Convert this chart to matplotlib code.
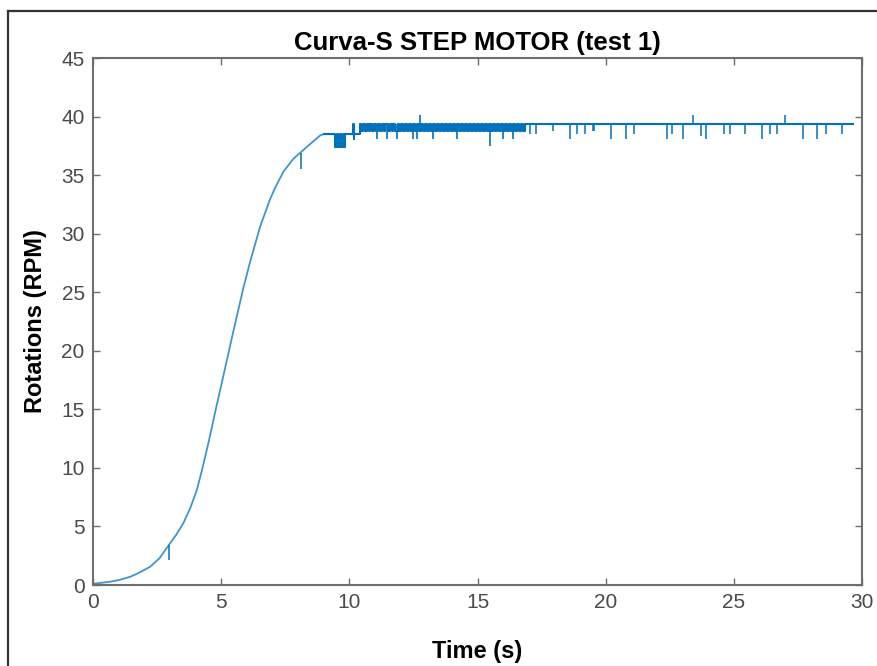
import matplotlib
matplotlib.use("Agg")
import matplotlib.pyplot as plt
from matplotlib.lines import Line2D

plt.rcParams['font.family'] = ['Liberation Sans', 'DejaVu Sans']

# smooth rising part of the S-curve (time s, RPM)
rise_t = [0.0, 0.3, 0.66, 1.0, 1.45, 1.8, 2.23, 2.6, 2.97, 3.25, 3.53, 3.8, 4.05, 4.25,
          4.5, 4.77, 5.09, 5.48, 5.87, 6.13, 6.52, 6.9, 7.1, 7.43, 7.82, 8.08, 8.47, 8.87, 9.0]
rise_v = [0.1, 0.18, 0.28, 0.42, 0.7, 1.05, 1.56, 2.3, 3.45, 4.3, 5.3, 6.6, 8.1, 9.8,
          12.1, 14.8, 17.9, 21.7, 25.4, 27.6, 30.6, 32.9, 33.9, 35.3, 36.4, 36.9, 37.65, 38.4, 38.5]

# stepping region before the plateau
step_t = [9.0, 9.45, 9.5, 9.56, 9.62, 9.68, 9.74, 9.8, 9.85, 10.15, 10.17, 10.19, 10.43]
step_v = [38.5, 37.4, 38.5, 37.4, 38.5, 37.4, 38.5, 37.4, 38.5, 39.4, 38.1, 38.5, 39.4]

# dense toggling between two levels (10.4 s - 16.8 s)
band_hi = 39.4
band_lo = 38.8
band_toggles = [10.47, 10.55, 10.6, 10.68, 10.75, 10.82, 10.9, 10.96, 11.05, 11.12,
                11.2, 11.27, 11.35, 11.41, 11.5, 11.58, 11.65, 11.72, 11.8, 11.88,
                11.95, 12.03, 12.1, 12.18, 12.26, 12.33, 12.4, 12.48, 12.56, 12.64,
                12.7, 12.8, 12.88, 12.95, 13.03, 13.1, 13.18, 13.27, 13.35, 13.42,
                13.5, 13.58, 13.66, 13.73, 13.8, 13.88, 13.96, 14.04, 14.12, 14.2,
                14.28, 14.35, 14.43, 14.5, 14.58, 14.66, 14.74, 14.82, 14.9, 14.97,
                15.05, 15.13, 15.2, 15.28, 15.36, 15.44, 15.52, 15.6, 15.68, 15.75,
                15.83, 15.9, 15.98, 16.06, 16.14, 16.22, 16.3, 16.38, 16.46, 16.54,
                16.62, 16.7, 16.78]
band_spike_t = [11.07, 11.46, 11.85, 12.49, 12.63, 12.76, 13.28, 14.19, 15.49, 16.0, 16.39]
band_spike_v = [38.1, 38.1, 38.1, 38.1, 38.1, 40.1, 38.1, 38.1, 37.5, 38.1, 38.1]

# flat plateau with occasional glitches
plateau_v = 39.4
plateau_end = 29.65
spike_t = [17.05, 17.3, 17.95, 18.6, 18.9, 19.2, 19.5, 19.55, 20.2, 20.8, 21.1, 22.4, 22.6,
           23.0, 23.4, 23.7, 23.9, 24.6, 24.85, 25.45, 26.1, 26.4, 26.7, 27.0, 27.7,
           28.25, 28.6, 29.2]
spike_v = [38.5, 38.5, 38.8, 38.1, 38.5, 38.5, 38.8, 38.8, 38.1, 38.1, 38.5, 38.1, 38.5,
           38.1, 40.1, 38.3, 38.1, 38.5, 38.5, 38.5, 38.1, 38.5, 38.5, 40.1, 38.1,
           38.1, 38.5, 38.5]

# assemble step signal after the smooth rise
sig_t = list(step_t)
sig_v = list(step_v)
level = band_hi
for tt in band_toggles:
    level = band_lo if level == band_hi else band_hi
    sig_t.append(tt)
    sig_v.append(level)
sig_t.append(16.85)
sig_v.append(plateau_v)
sig_t.append(plateau_end)
sig_v.append(plateau_v)

fig = plt.figure(figsize=(8.78, 6.66), dpi=100)
ax = fig.add_axes([0.1059, 0.1216, 0.8759, 0.7913])

blue = '#0072BD'
ax.plot(rise_t, rise_v, color=blue, lw=1.3, alpha=0.75)
ax.plot(sig_t, sig_v, color=blue, lw=1.5, drawstyle='steps-post')
# glitch spikes
ax.vlines(band_spike_t, band_hi, band_spike_v, color=blue, lw=1.2)
ax.vlines(spike_t, plateau_v, spike_v, color=blue, lw=1.1)
ax.vlines([2.97], 2.1, 3.45, color=blue, lw=1.1)
ax.vlines([8.1], 35.5, 36.9, color=blue, lw=1.1)

ax.set_xlim(0, 30)
ax.set_ylim(0, 45)
ax.set_xticks(range(0, 31, 5))
ax.set_yticks(range(0, 46, 5))
ax.tick_params(direction='in', top=True, right=True, length=5, width=1,
               colors='#6e6e6e', labelcolor='#4a4a4a', labelsize=15, pad=6)
for s in ax.spines.values():
    s.set_color('#6e6e6e')
    s.set_linewidth(1.5)

ax.set_title('Curva-S STEP MOTOR (test 1)', fontsize=18.5, fontweight='bold', pad=6)
ax.set_xlabel('Time (s)', fontsize=17, fontweight='bold', labelpad=20)
ax.set_ylabel('Rotations (RPM)', fontsize=17, fontweight='bold', labelpad=10)

# outer frame of the screenshot (left and top edges visible)
fig.add_artist(Line2D([8 / 878, 8 / 878], [-0.1, 1 - 11 / 666], transform=fig.transFigure,
                      color='#333333', lw=1.6))
fig.add_artist(Line2D([8 / 878, 1.1], [1 - 11 / 666, 1 - 11 / 666], transform=fig.transFigure,
                      color='#333333', lw=1.6))

fig.savefig('out.png', dpi=100)
